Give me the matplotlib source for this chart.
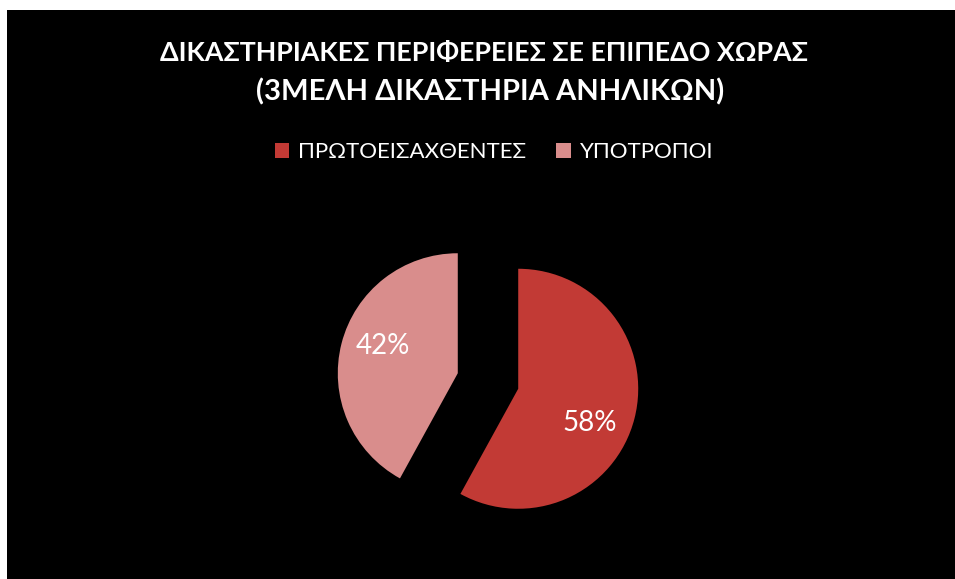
import matplotlib
matplotlib.use("Agg")
import matplotlib.pyplot as plt
from matplotlib.patches import Rectangle

W, H = 955, 579

labels = ["ΠΡΩΤΟΕΙΣΑΧΘΕΝΤΕΣ", "ΥΠΟΤΡΟΠΟΙ"]
values = [58, 42]
colors = ["#C23A35", "#D98D8C"]
title_lines = ["ΔΙΚΑΣΤΗΡΙΑΚΕΣ ΠΕΡΙΦΕΡΕΙΕΣ ΣΕ ΕΠΙΠΕΔΟ ΧΩΡΑΣ",
               "(3ΜΕΛΗ ΔΙΚΑΣΤΗΡΙΑ ΑΝΗΛΙΚΩΝ)"]

plt.rcParams["font.family"] = ["Lato", "DejaVu Sans"]

fig = plt.figure(figsize=(W / 100, H / 100), dpi=100, facecolor="white")


def fx(px):
    return px / W


def fy(py):
    return 1 - py / H


# black chart area (thin white margin on the top and left)
bg = fig.add_axes([fx(7), 0, 1 - fx(7), (H - 10) / H], zorder=-5)
bg.axis("off")
bg.add_patch(Rectangle((0, 0), 1, 1, transform=bg.transAxes,
                       facecolor="black", edgecolor="none"))

fig.text(fx(484), fy(53), title_lines[0], color="white", fontsize=19.3,
         fontweight="bold", ha="center", va="center")
fig.text(fx(490), fy(92), title_lines[1], color="white", fontsize=21,
         fontweight="bold", ha="center", va="center")

# pie axes: radius 1 -> 120 px, centred at pixel (488, 381)
cx, cy, r_px = 488, 381, 120
box = 150
ax = fig.add_axes([fx(cx - box), fy(cy + box), 2 * box / W, 2 * box / H])
ax.axis("off")

wedges, _ = ax.pie(values, colors=colors, startangle=90, counterclock=False,
                   explode=[0.26, 0.26], radius=1,
                   wedgeprops=dict(edgecolor="none"))
ax.set_xlim(-box / r_px, box / r_px)
ax.set_ylim(-box / r_px, box / r_px)

pct_pos = [(0.85, -0.35), (-0.88, 0.29)]
for v, (x, y) in zip(values, pct_pos):
    ax.text(x, y, f"{v}%", color="white", fontsize=20, ha="center", va="center")

leg = fig.legend(wedges, labels, loc="center", bbox_to_anchor=(fx(494), fy(152)),
                 ncol=2, frameon=False, fontsize=16, labelcolor="white",
                 handlelength=0.65, handleheight=0.65, handletextpad=0.4,
                 columnspacing=1.35)

fig.savefig("out.png", dpi=100, facecolor=fig.get_facecolor())
